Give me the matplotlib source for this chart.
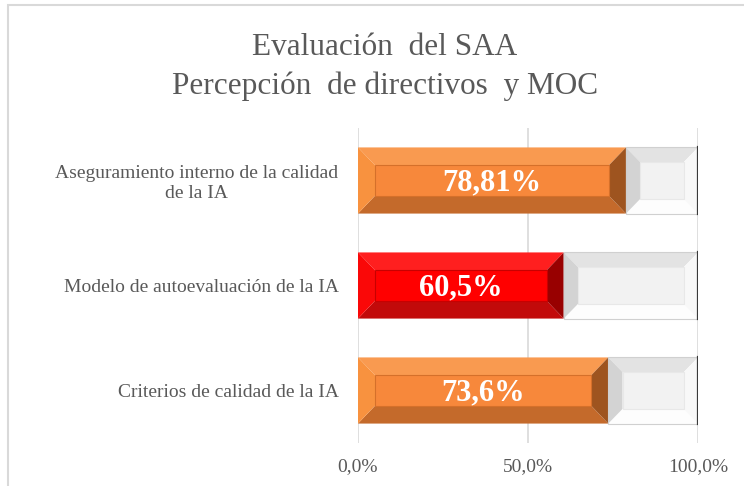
import matplotlib.pyplot as plt
from matplotlib.patches import Polygon, Rectangle

categorias = ['Criterios de calidad de la IA',
              'Modelo de autoevaluación de la IA',
              'Aseguramiento interno de la calidad\nde la IA']
valores = [73.6, 60.5, 78.81]
etiquetas = ['73,6%', '60,5%', '78,81%']
colores = ['orange', 'red', 'orange']
ticks = [0, 50, 100]
tick_labels = ['0,0%', '50,0%', '100,0%']

# shades for the bevelled bars: face, top, bottom, left, right, inner edge
PALETA = {
    'orange': ('#F7883B', '#F99A50', '#C46A2B', '#F8923F', '#9E541F', '#D5702A'),
    'red': ('#FF0000', '#FF1F1F', '#C20A0A', '#FA0808', '#980000', '#C80000'),
    'gray': ('#F2F2F2', '#E3E3E3', '#FDFDFD', '#D3D3D3', '#F8F8F8', '#E8E8E8'),
}

GRIS = '#595959'
plt.rcParams['font.family'] = ['Liberation Serif', 'DejaVu Serif']


def bisel(ax, x0, x1, yc, h, tono, bx, by, borde_der=None):
    cara, arriba, abajo, izq, der, filo = PALETA[tono]
    y0, y1 = yc - h / 2, yc + h / 2
    bx = min(bx, (x1 - x0) / 3)
    ix0, ix1, iy0, iy1 = x0 + bx, x1 - bx, y0 + by, y1 - by
    ax.add_patch(Polygon([(x0, y1), (x1, y1), (ix1, iy1), (ix0, iy1)], closed=True,
                         facecolor=arriba, edgecolor='none', zorder=3))
    ax.add_patch(Polygon([(x0, y0), (x1, y0), (ix1, iy0), (ix0, iy0)], closed=True,
                         facecolor=abajo, edgecolor='none', zorder=3))
    ax.add_patch(Polygon([(x0, y0), (x0, y1), (ix0, iy1), (ix0, iy0)], closed=True,
                         facecolor=izq, edgecolor='none', zorder=3))
    ax.add_patch(Polygon([(x1, y0), (x1, y1), (ix1, iy1), (ix1, iy0)], closed=True,
                         facecolor=der, edgecolor='none', zorder=3))
    ax.add_patch(Rectangle((ix0, iy0), ix1 - ix0, iy1 - iy0, facecolor=cara,
                           edgecolor=filo, linewidth=0.8, zorder=4))
    if borde_der:
        ax.plot([x1, x1], [y0, y1], color=borde_der, linewidth=1.6, zorder=5)


fig = plt.figure(figsize=(7.44, 4.86), dpi=100)

# outer chart frame
fig.add_artist(Rectangle((8 / 744, -0.1), 1.0, (486 - 5) / 486 + 0.1,
                         transform=fig.transFigure, facecolor='none',
                         edgecolor='#D9D9D9', linewidth=1.5))

ax = fig.add_axes([358 / 744, 43 / 486, 340 / 744, 315 / 486])
pos = range(len(categorias))
alto = 0.63

ax.barh(pos, valores, height=alto, color='none', zorder=1)
ax.barh(pos, [100 - v for v in valores], left=valores, height=alto, color='none', zorder=1)

for i, (v, c, lab) in enumerate(zip(valores, colores, etiquetas)):
    bisel(ax, 0, v, i, alto, c, 5.0, 0.17)
    bisel(ax, v, 100, i, alto, 'gray', 4.2, 0.14, borde_der='#3A3A3A')
    ax.add_patch(Rectangle((v, i - alto / 2), 100 - v, alto, facecolor='none',
                           edgecolor='#D0D0D0', linewidth=0.8, zorder=4))
    ax.text(v / 2, i - 0.02, lab, ha='center', va='center', color='white',
            fontsize=22, fontweight='bold', zorder=6)

ax.set_xlim(0, 100)
ax.set_ylim(-0.5, 2.5)
ax.set_xticks(ticks)
ax.set_xticklabels(tick_labels, fontsize=14, color=GRIS)
ax.set_yticks(list(pos))
ax.set_yticklabels(categorias, fontsize=14, color=GRIS, multialignment='center')
ax.tick_params(axis='x', length=0, pad=11)
ax.tick_params(axis='y', length=0, pad=14)
ax.grid(axis='x', color='#D9D9D9', linewidth=1.2, zorder=0)
ax.set_axisbelow(True)
for s in ax.spines.values():
    s.set_visible(False)

fig.text(385 / 744, 1 - 47 / 486, 'Evaluación  del SAA', ha='center', va='center',
         fontsize=22.5, color=GRIS)
fig.text(385 / 744, 1 - 86 / 486, 'Percepción  de directivos  y MOC', ha='center',
         va='center', fontsize=22.5, color=GRIS)

plt.savefig('out.png', dpi=100)
